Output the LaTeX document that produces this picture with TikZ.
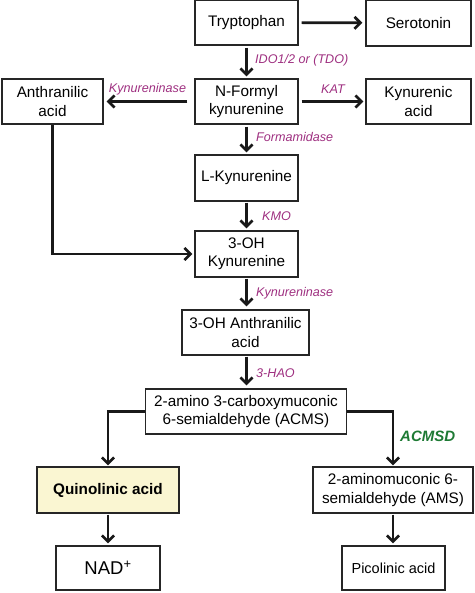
\documentclass[tikz,border=0pt]{standalone}
\usepackage{fontspec}
\setmainfont{Liberation Sans}
\usetikzlibrary{arrows.meta}
\definecolor{enz}{HTML}{9E2F80}
\definecolor{grn}{HTML}{1E7A34}
\definecolor{qfill}{HTML}{FAF6D2}
\begin{document}
\begin{tikzpicture}[x=1pt,y=1pt,
  box/.style={draw=black!85,line width=1.3pt,fill=white,align=center,inner sep=0pt,
    font=\fontsize{15.3}{18.5}\selectfont},
  lab/.style={font=\fontsize{12.6}{14}\selectfont\itshape,text=enz,inner sep=0pt},
  arr/.style={line width=2.7pt,draw=black!90,-{Straight Barb[length=6pt,width=12pt]}},
  conn/.style={line width=2.7pt,draw=black!90}]
\useasboundingbox (0,0) rectangle (474,593);
\node[box,minimum width=103,minimum height=45] (trp) at (246.5,570.5) {Tryptophan};
\node[box,minimum width=105,minimum height=46] (ser) at (418.5,570) {Serotonin};
\node[box,minimum width=103,minimum height=45] (nfk) at (246.5,491.5) {N-Formyl\\kynurenine};
\node[box,minimum width=101,minimum height=45] (ant) at (52.5,491.5) {Anthranilic\\acid};
\node[box,minimum width=105,minimum height=45] (kyna) at (418.5,491.5) {Kynurenic\\acid};
\node[box,minimum width=103,minimum height=46] (lkyn) at (246.5,415) {L-Kynurenine};
\node[box,minimum width=103,minimum height=46] (ohk) at (246.5,339) {3-OH\\Kynurenine};
\node[box,minimum width=127,minimum height=45] (ohaa) at (245.5,260.5) {3-OH Anthranilic\\acid};
\node[box,minimum width=201,minimum height=45] (acms) at (246,181.5) {2-amino 3-carboxymuconic\\6-semialdehyde (ACMS)};
\node[box,minimum width=142,minimum height=46,fill=qfill,font=\fontsize{15.3}{18.5}\selectfont\bfseries] (quin) at (108,103) {Quinolinic acid};
\node[box,minimum width=160,minimum height=46] (ams) at (393,103) {2-aminomuconic 6-\\semialdehyde (AMS)};
\node[box,minimum width=104,minimum height=44,font=\fontsize{18.5}{20}\selectfont] (nad) at (108,25) {NAD\textsuperscript{+}};
\node[box,minimum width=103,minimum height=44,font=\fontsize{14.5}{18}\selectfont] (pico) at (393.5,25) {Picolinic acid};

\draw[arr,shorten <=3pt,shorten >=3pt] (trp) -- (ser);
\draw[arr,shorten <=2pt,shorten >=2pt] (trp) -- (nfk);
\draw[arr,shorten <=7pt,shorten >=3pt] (nfk) -- (ant);
\draw[arr,shorten <=3pt,shorten >=2pt] (nfk) -- (kyna);
\draw[arr,shorten <=2pt,shorten >=2pt] (nfk) -- (lkyn);
\draw[arr,shorten <=1pt,shorten >=2pt] (lkyn) -- (ohk);
\draw[arr,shorten <=1pt,shorten >=3pt] (ohk.south) -- (ohk.south |- ohaa.north);
\draw[arr,shorten <=1pt,shorten >=3pt] (ohk.south |- ohaa.south) -- (ohk.south |- acms.north);
\draw[arr,shorten >=2pt] (ant.south) |- (ohk.west);
\draw[arr,shorten >=1pt] (acms.west) -| (quin.north);
\draw[arr,shorten >=1pt] (acms.east) -| (ams.north);
\draw[arr,shorten <=1pt,shorten >=2pt] (quin) -- (nad);
\draw[arr,shorten <=1pt,shorten >=2pt] (ams) -- (ams.south |- pico.north);

\node[lab,anchor=west] (l1) at (255,533) {IDO1/2 or (TDO)};
\node[lab] (l2) at (147.5,504) {Kynureninase};
\node[lab] (l3) at (333,504) {KAT};
\node[lab,anchor=west] (l4) at (256,456) {Formamidase};
\node[lab,anchor=west] (l5) at (262,377) {KMO};
\node[lab,anchor=west] (l6) at (256,300) {Kynureninase};
\node[lab,anchor=west] (l7) at (256,220) {3-HAO};
\node[lab,anchor=west,text=grn,font=\fontsize{15}{16}\selectfont\bfseries\itshape] (l8) at (400,157) {ACMSD};
\end{tikzpicture}
\end{document}
